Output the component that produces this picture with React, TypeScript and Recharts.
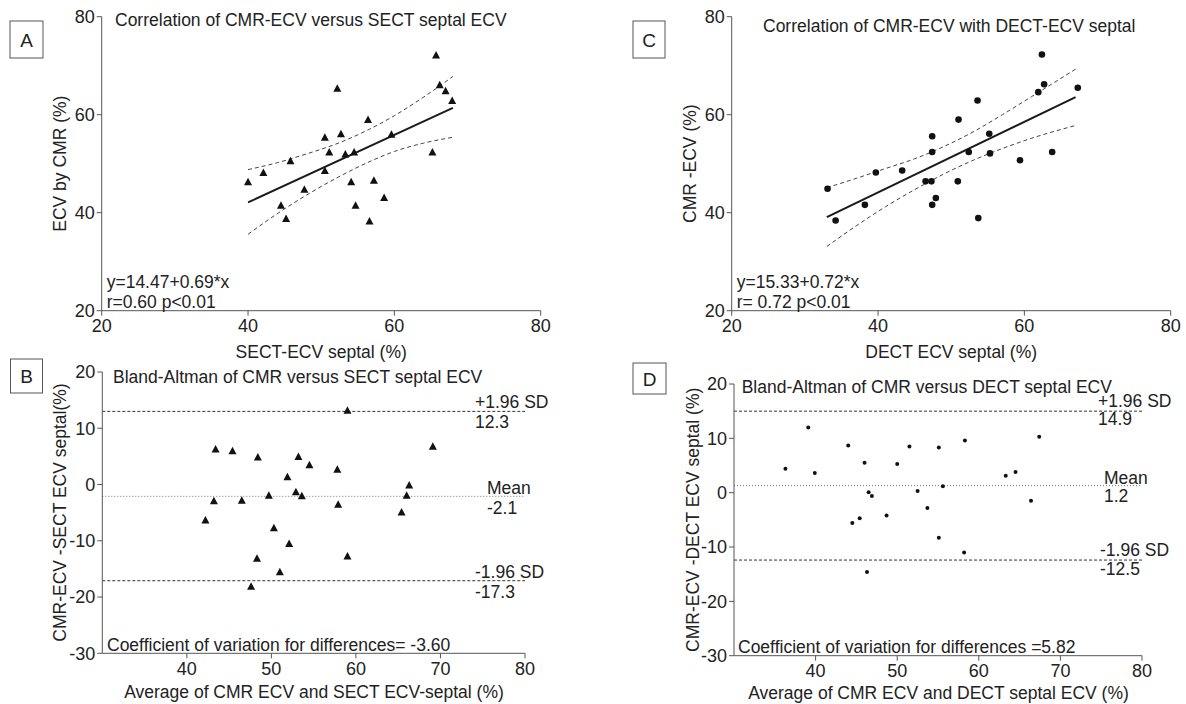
import React from "react";
import {
  ScatterChart, Scatter, XAxis, YAxis, ReferenceLine,
} from "recharts";

const FONT = "'Liberation Sans', Arial, sans-serif";
const INK = "#222";
const AXIS = "#555";

// Panel A: CMR-ECV vs SECT septal ECV
const sectEcvA = [65.7, 52.2, 66.2, 67.0, 67.9, 56.4, 59.6, 50.5, 52.7, 51.1, 53.3, 54.5, 65.2, 45.8, 42.1, 40.0, 50.5, 54.1, 57.2, 47.7, 58.6, 44.5, 54.7, 45.2, 56.6];
const cmrEcvA = [72.2, 65.4, 66.1, 64.9, 62.9, 59.0, 56.0, 55.4, 56.1, 52.4, 52.0, 52.4, 52.4, 50.6, 48.2, 46.3, 48.6, 46.3, 46.6, 44.8, 43.1, 41.5, 41.5, 38.8, 38.3];
const fitXA = [40, 68];
const fitYA = [42.1, 61.4];
const bandXA = [40, 44, 48, 52, 56, 60, 64, 68];
const upperA = [48.8, 50.2, 52.0, 54.0, 56.6, 59.8, 63.6, 67.8];
const lowerA = [35.6, 39.8, 43.6, 47.0, 50.0, 52.5, 54.2, 55.4];

// Panel C: CMR-ECV vs DECT septal ECV
const dectEcvC = [62.4, 62.7, 61.9, 67.3, 53.6, 51.0, 47.4, 55.2, 47.4, 52.4, 55.3, 63.8, 59.4, 39.7, 43.3, 46.5, 47.3, 50.9, 33.1, 47.9, 38.2, 47.4, 34.2, 53.7];
const cmrEcvC = [72.3, 66.2, 64.6, 65.5, 62.9, 59.0, 55.6, 56.1, 52.4, 52.4, 52.1, 52.4, 50.7, 48.2, 48.6, 46.4, 46.4, 46.4, 44.9, 43.0, 41.6, 41.6, 38.4, 38.9];
const fitXC = [33, 67];
const fitYC = [39.1, 63.6];
const bandXC = [33, 37, 41, 45, 49, 53, 57, 61, 67];
const upperC = [45.1, 47.0, 49.0, 51.0, 53.5, 56.5, 60.0, 63.7, 69.3];
const lowerC = [33.1, 37.3, 41.2, 44.7, 47.9, 50.7, 53.1, 55.2, 57.8];

// Panel B: Bland-Altman CMR vs SECT
const avgB = [59.0, 43.4, 45.4, 69.1, 48.4, 53.2, 54.5, 57.8, 51.9, 66.3, 52.9, 49.7, 53.6, 66.0, 43.2, 46.5, 57.9, 65.4, 42.2, 50.3, 52.1, 59.0, 48.3, 51.0, 47.6];
const diffB = [13.2, 6.3, 6.0, 6.8, 4.9, 5.0, 3.5, 2.7, 1.4, -0.1, -1.3, -1.9, -2.0, -1.9, -2.9, -2.8, -3.5, -4.9, -6.3, -7.7, -10.5, -12.7, -13.1, -15.5, -18.1];
const limitsB = [13.0, -2.1, -17.1];
const limitNamesB = ["+1.96 SD", "Mean", "-1.96 SD"];
const limitTextB = ["12.3", "-2.1", "-17.3"];

// Panel D: Bland-Altman CMR vs DECT
const avgD = [39.1, 67.4, 58.3, 44.0, 51.5, 55.1, 46.0, 50.0, 36.3, 39.9, 64.5, 63.3, 55.6, 46.5, 52.5, 46.9, 66.4, 53.7, 48.7, 45.4, 44.5, 55.1, 58.2, 46.3];
const diffD = [12.0, 10.3, 9.6, 8.7, 8.5, 8.3, 5.5, 5.3, 4.4, 3.6, 3.8, 3.1, 1.2, 0.1, 0.3, -0.6, -1.5, -2.8, -4.2, -4.7, -5.6, -8.3, -11.0, -14.6];
const limitsD = [15.0, 1.3, -12.4];
const limitNamesD = ["+1.96 SD", "Mean", "-1.96 SD"];
const limitTextD = ["14.9", "1.2", "-12.5"];

const ticksCorr = [20, 40, 60, 80];
const ticksBAx = [40, 50, 60, 70, 80];
const ticksBAy = [-30, -20, -10, 0, 10, 20];

const pts = (xs: number[], ys: number[]) => xs.map((x, i) => ({ x, y: ys[i] }));

const Triangle = (p: any) => (
  <polygon
    points={`${p.cx - 4},${p.cy + 3.5} ${p.cx + 4},${p.cy + 3.5} ${p.cx},${p.cy - 4}`}
    fill="#111"
  />
);
const Dot = (r: number) => (p: any) => <circle cx={p.cx} cy={p.cy} r={r} fill="#111" />;
const NoShape = () => <g />;

const tickStyle = { fill: INK, fontSize: 18, fontFamily: FONT };

// label for a Bland-Altman limit line: name above, value below, near the right end
const limitLabel = (name: string, value: string, dx: number, above: number, below: number) =>
  (props: any) => {
    const vb = props.viewBox || {};
    const x = vb.x + vb.width - dx;
    return (
      <g fontFamily={FONT} fontSize={17.5} fill={INK}>
        <text x={x} y={vb.y - above}>{name}</text>
        <text x={x} y={vb.y + below}>{value}</text>
      </g>
    );
  };

function Panel({ margin, xDomain, xTicks, yDomain, yTicks, children }: any) {
  return (
    <div style={{ position: "absolute", left: 0, top: 0 }}>
      <ScatterChart width={1186} height={704} margin={margin}>
        <XAxis
          type="number" dataKey="x" domain={xDomain} ticks={xTicks} interval={0}
          height={30} tick={tickStyle} tickSize={5} tickMargin={4}
          axisLine={{ stroke: AXIS }} tickLine={{ stroke: AXIS }}
        />
        <YAxis
          type="number" dataKey="y" domain={yDomain} ticks={yTicks} interval={0}
          width={60} tick={tickStyle} tickSize={5} tickMargin={2}
          axisLine={{ stroke: AXIS }} tickLine={{ stroke: AXIS }}
        />
        {children}
      </ScatterChart>
    </div>
  );
}

const fitLine = { stroke: "#1a1a1a", strokeWidth: 2 };
const bandLine = { stroke: "#444", strokeWidth: 1, strokeDasharray: "4 3" };

function Corr({ margin, xs, ys, fx, fy, bx, up, lo, shape }: any) {
  return (
    <Panel margin={margin} xDomain={[20, 80]} xTicks={ticksCorr} yDomain={[20, 80]} yTicks={ticksCorr}>
      <Scatter data={pts(bx, up)} line={bandLine} lineJointType="monotoneX" shape={NoShape} isAnimationActive={false} />
      <Scatter data={pts(bx, lo)} line={bandLine} lineJointType="monotoneX" shape={NoShape} isAnimationActive={false} />
      <Scatter data={pts(fx, fy)} line={fitLine} shape={NoShape} isAnimationActive={false} />
      <Scatter data={pts(xs, ys)} shape={shape} isAnimationActive={false} />
    </Panel>
  );
}

function BA({ margin, xs, ys, limits, names, values, offsets, shape }: any) {
  return (
    <Panel margin={margin} xDomain={[30, 80]} xTicks={ticksBAx} yDomain={[-30, 20]} yTicks={ticksBAy}>
      {limits.map((v: number, i: number) => (
        <ReferenceLine
          key={i} y={v}
          stroke={i === 1 ? "#777" : "#333"}
          strokeDasharray={i === 1 ? "1 2" : "3 2"}
          label={{ content: limitLabel(names[i], values[i], offsets[i][0], offsets[i][1], offsets[i][2]) }}
        />
      ))}
      <Scatter data={pts(xs, ys)} shape={shape} isAnimationActive={false} />
    </Panel>
  );
}

const txt = { fontFamily: FONT, fontSize: 17.5, fill: INK };

function LetterBox({ x, y, w, h, letter }: any) {
  return (
    <g>
      <rect x={x} y={y} width={w} height={h} fill="#fff" stroke={AXIS} strokeWidth={1} />
      <text x={x + w / 2} y={y + h / 2 + 7} textAnchor="middle" fontFamily={FONT} fontSize={19} fill={INK}>{letter}</text>
    </g>
  );
}

export default function App() {
  return (
    <div style={{ position: "absolute", left: 0, top: 0, width: 1186, height: 704, background: "#fff", overflow: "hidden" }}>
      <Corr
        margin={{ left: 41.7, top: 16.7, right: 645.3, bottom: 363.3 }}
        xs={sectEcvA} ys={cmrEcvA} fx={fitXA} fy={fitYA} bx={bandXA} up={upperA} lo={lowerA}
        shape={Triangle}
      />
      <Corr
        margin={{ left: 671.7, top: 16.7, right: 15.3, bottom: 363.3 }}
        xs={dectEcvC} ys={cmrEcvC} fx={fitXC} fy={fitYC} bx={bandXC} up={upperC} lo={lowerC}
        shape={Dot(3.3)}
      />
      <BA
        margin={{ left: 42.3, top: 372, right: 661, bottom: 20.7 }}
        xs={avgB} ys={diffB} limits={limitsB} names={limitNamesB} values={limitTextB}
        offsets={[[50, 3, 17], [38, 2, 18], [50, 3, 17]]}
        shape={Triangle}
      />
      <BA
        margin={{ left: 674, top: 384, right: 44, bottom: 18.3 }}
        xs={avgD} ys={diffD} limits={limitsD} names={limitNamesD} values={limitTextD}
        offsets={[[44, 4, 14], [38, 2, 16], [42, 4, 15]]}
        shape={Dot(2)}
      />
      <svg width={1186} height={704} style={{ position: "absolute", left: 0, top: 0, pointerEvents: "none" }}>
        <g {...txt}>
          <text x={115} y={26.3}>Correlation of CMR-ECV versus SECT septal ECV</text>
          <text x={763} y={32}>Correlation of CMR-ECV with DECT-ECV septal</text>
          <text x={113} y={383.3}>Bland-Altman of CMR versus SECT septal ECV</text>
          <text x={741.7} y={393}>Bland-Altman of CMR versus DECT septal ECV</text>

          <text x={106.7} y={288}>y=14.47+0.69*x</text>
          <text x={106.7} y={308}>r=0.60 p&lt;0.01</text>
          <text x={736.7} y={288}>y=15.33+0.72*x</text>
          <text x={736.7} y={308}>r= 0.72 p&lt;0.01</text>
          <text x={107} y={651}>Coefficient of variation for differences= -3.60</text>
          <text x={738} y={653}>Coefficient of variation for differences =5.82</text>

          <text x={321.2} y={358} textAnchor="middle">SECT-ECV septal (%)</text>
          <text x={951.2} y={358} textAnchor="middle">DECT ECV septal (%)</text>
          <text x={314} y={698} textAnchor="middle">Average of CMR ECV and SECT ECV-septal (%)</text>
          <text x={938.5} y={699} textAnchor="middle">Average of CMR ECV and DECT septal ECV (%)</text>

          <text transform="translate(65.5,163.7) rotate(-90)" textAnchor="middle">ECV by CMR (%)</text>
          <text transform="translate(695.5,163.7) rotate(-90)" textAnchor="middle">CMR -ECV (%)</text>
          <text transform="translate(65.7,512.5) rotate(-90)" textAnchor="middle">CMR-ECV -SECT ECV septal(%)</text>
          <text transform="translate(699,519.8) rotate(-90)" textAnchor="middle">CMR-ECV -DECT ECV septal (%)</text>
        </g>
        <LetterBox x={10} y={21} w={33} h={37} letter="A" />
        <LetterBox x={633} y={21} w={32} h={37} letter="C" />
        <LetterBox x={10.5} y={359} w={32} h={34} letter="B" />
        <LetterBox x={633} y={363} w={33} h={31} letter="D" />
      </svg>
    </div>
  );
}
